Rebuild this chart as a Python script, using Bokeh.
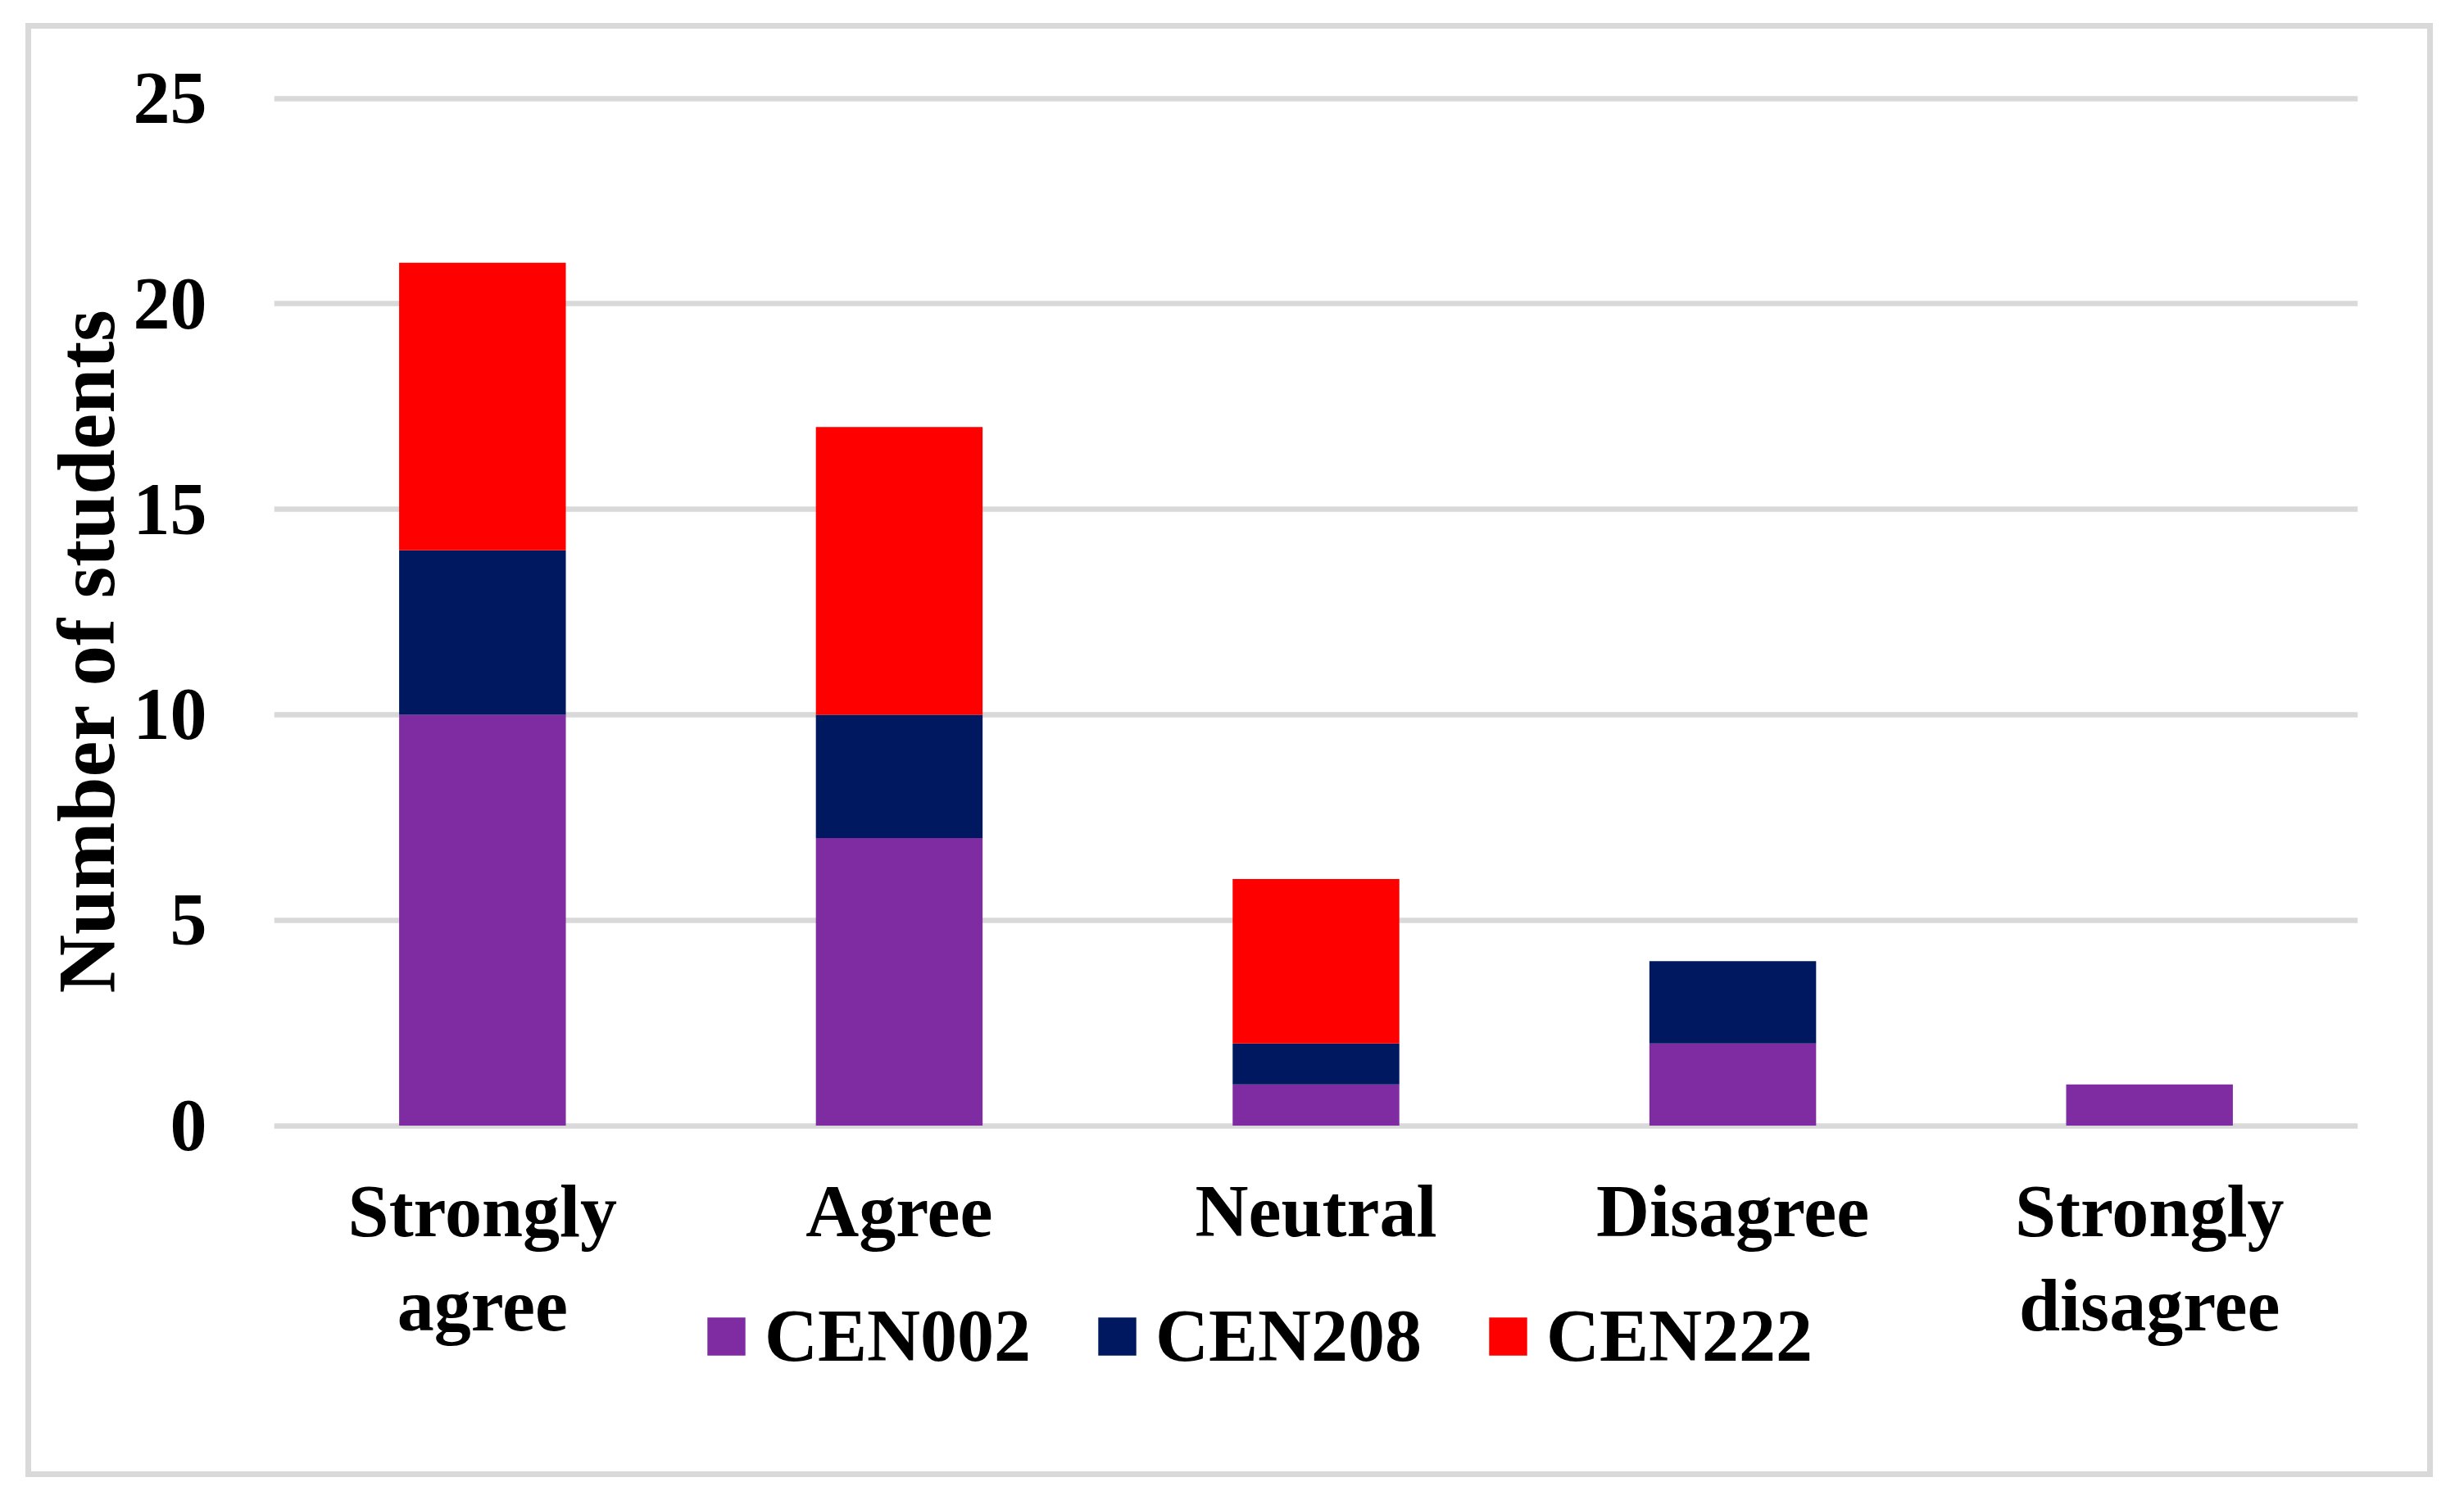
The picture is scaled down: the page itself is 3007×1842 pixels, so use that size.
from bokeh.plotting import figure
from bokeh.layouts import column
from bokeh.models import (FactorRange, Range1d, FixedTicker, Legend, LegendItem,
                          Title, ColumnDataSource)
from bokeh.embed import file_html
from bokeh.resources import INLINE

# ---- data ----
categories = ["Strongly\nagree", "Agree", "Neutral", "Disagree", "Strongly\ndisagree"]
series_names = ["CEN002", "CEN208", "CEN222"]
cen002 = [10, 7, 1, 2, 1]
cen208 = [4, 3, 1, 2, 0]
cen222 = [7, 7, 4, 0, 0]
y_ticks = [0, 5, 10, 15, 20, 25]
y_title = "Number of students"
colors = ["#7F2CA2", "#001860", "#FF0000"]

FONT = "Liberation Serif"

source = ColumnDataSource(dict(cat=categories, CEN002=cen002, CEN208=cen208, CEN222=cen222))

# frame extends below zero so that the legend sits inside it (no clipping)
p = figure(x_range=FactorRange(*categories), y_range=Range1d(-7.785, 25.09),
           frame_width=2543, frame_height=1649,
           min_border_left=296, min_border_right=85,
           min_border_top=80, min_border_bottom=32,
           output_backend="svg", toolbar_location=None, tools="")
p.background_fill_color = "white"
p.border_fill_color = None
p.outline_line_color = None

renderers = p.vbar_stack(series_names, x="cat", width=0.4, fill_color=colors,
                         line_color=None, source=source)

for ax in (p.xaxis, p.yaxis):
    ax.axis_line_color = None
    ax.major_tick_line_color = None
    ax.minor_tick_line_color = None
    ax.major_tick_out = 0
    ax.major_tick_in = 0
    ax.minor_tick_out = 0
    ax.major_label_text_font = FONT
    ax.major_label_text_font_size = "90px"
    ax.major_label_text_font_style = "bold"
    ax.major_label_text_color = "black"

p.xaxis.fixed_location = 0
p.xaxis.major_label_standoff = 55
p.xaxis.major_label_text_line_height = 1.16
p.yaxis.ticker = FixedTicker(ticks=y_ticks)
p.yaxis.major_label_standoff = 82

p.xgrid.grid_line_color = None
p.ygrid.ticker = FixedTicker(ticks=y_ticks)
p.ygrid.grid_line_color = "#d9d9d9"
p.ygrid.grid_line_width = 6.5

title = Title(text=y_title, align="left", offset=552, standoff=0,
              text_font=FONT, text_font_size="99px", text_font_style="bold",
              text_color="black")
p.add_layout(title, "left")

legend = Legend(items=[LegendItem(label=n, renderers=[r]) for n, r in zip(series_names, renderers)],
                orientation="horizontal", location=(523, 82),
                glyph_width=58, glyph_height=58, label_standoff=18, spacing=76,
                padding=0, margin=0, border_line_color=None, background_fill_alpha=0,
                label_text_font=FONT, label_text_font_size="90px",
                label_text_font_style="bold", label_text_color="black",
                label_height=100)
p.add_layout(legend)

root = column(p, styles={"border": "7px solid #d9d9d9",
                         "margin-left": "31px", "margin-top": "28px"})

open("out.html", "w").write(file_html(root, INLINE))
